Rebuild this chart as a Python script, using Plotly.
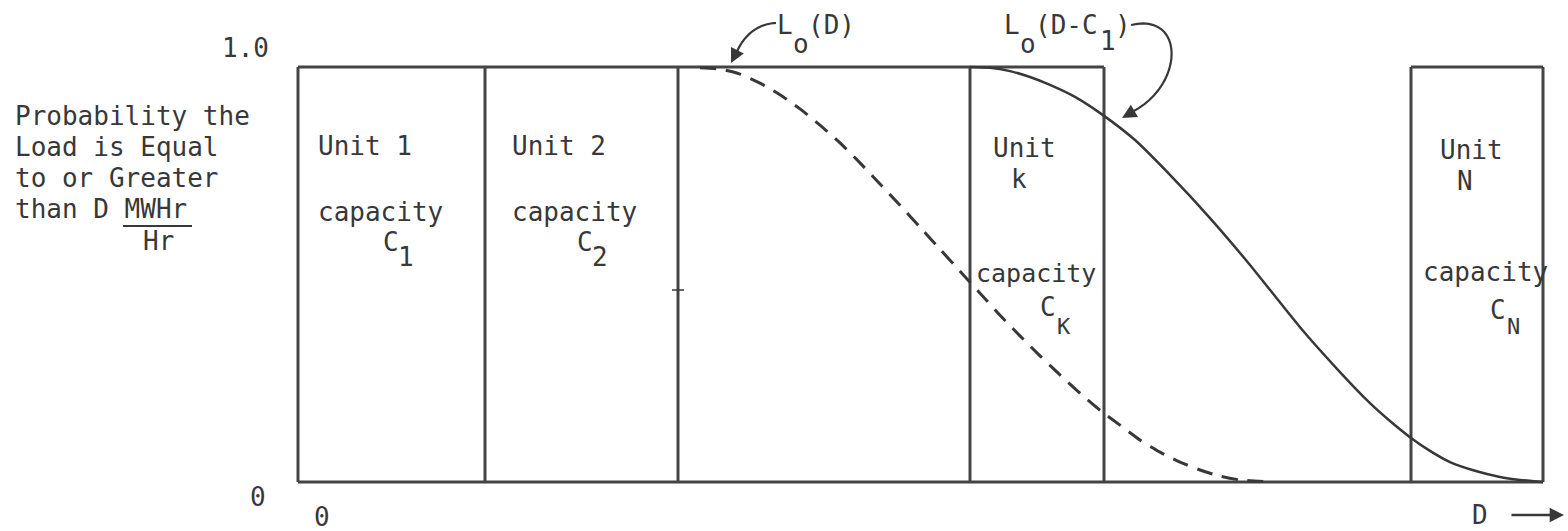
import plotly.graph_objects as go

W, H = 1568, 531

# ---- data (D in arbitrary load units, P = probability) ----
unit_names = ["Unit 1", "Unit 2", "", "Unit k", "Unit N"]
unit_edges = [0, 187, 380, 672, 806, 1113, 1245]   # box boundaries along D
top_segments = [(0, 806), (1113, 1245)]             # stretches of the P=1 line

L0_D = [402, 422, 442, 462, 482, 502, 522, 542, 562, 582, 602, 622, 642, 662,
        682, 702, 722, 742, 762, 782, 802, 822, 842, 862, 882, 902, 922, 942, 972]
L0_P = [0.998, 0.995, 0.983, 0.961, 0.933, 0.899, 0.860, 0.817, 0.769, 0.718,
        0.667, 0.614, 0.561, 0.508, 0.455, 0.402, 0.352, 0.304, 0.258, 0.214,
        0.173, 0.137, 0.101, 0.072, 0.048, 0.029, 0.014, 0.005, 0.0]

L1_D = [672, 692, 712, 732, 752, 777, 805, 837, 872, 912, 952, 1002, 1042,
        1072, 1092, 1112, 1132, 1152, 1177, 1202, 1222, 1245]
L1_P = [1.0, 0.998, 0.990, 0.976, 0.957, 0.928, 0.884, 0.824, 0.740, 0.636,
        0.523, 0.373, 0.265, 0.190, 0.147, 0.108, 0.075, 0.048, 0.027, 0.012,
        0.005, 0.0]

y_ticks = [0, 1]
y_tick_labels = ["0", "1.0"]

# ---- layout helpers ----
X0 = 298          # pixel of D = 0
Y0, Y1 = 482, 67  # pixels of P = 0 and P = 1
scale_y = (Y0 - Y1)
x_range = [-X0, W - X0]
y_range = [-(H - Y0) / scale_y, Y0 / scale_y]

def px(x):
    return x / W

def py(y):
    return 1 - y / H

INK = "#383838"
FONT = "DejaVu Sans Mono"
FS = 26

fig = go.Figure()

# box frame built from the unit edges
bx, by = [], []
for e in unit_edges:
    bx += [e, e, None]
    by += [0, 1, None]
for a, b in top_segments:
    bx += [a, b, None]
    by += [1, 1, None]
bx += [unit_edges[0], unit_edges[-1], None]
by += [0, 0, None]
fig.add_trace(go.Scatter(x=bx, y=by, mode="lines",
                         line=dict(color="#444", width=3), hoverinfo="skip"))

fig.add_trace(go.Scatter(x=L0_D, y=L0_P, mode="lines",
                         line=dict(color=INK, width=3, dash="16px,10px",
                                   shape="spline", smoothing=0.6),
                         hoverinfo="skip"))
fig.add_trace(go.Scatter(x=L1_D, y=L1_P, mode="lines",
                         line=dict(color=INK, width=2.5, shape="spline", smoothing=0.6),
                         hoverinfo="skip"))

ann = []

def text(t, x, y, anchor="left", size=FS):
    ann.append(dict(text=t, x=px(x), y=py(y), xref="paper", yref="paper",
                    xanchor=anchor, yanchor="middle", showarrow=False,
                    font=dict(family=FONT, size=size, color=INK)))

# y tick labels (typed slightly off the lines)
text(y_tick_labels[1], 271, 48, "right")
text(y_tick_labels[0], 268, 497, "right")
text("0", 312, 517)
text("D", 1470, 515)

# y-axis title
for i, line in enumerate(["Probability the", "Load is Equal", "to or Greater", "than D MWHr"]):
    text(line, 13, 116 + i * 31)
text("Hr", 141, 241)

# unit labels
text(unit_names[0], 316, 146)
text("capacity", 316, 212)
text("C", 381, 242)
text("1", 396, 257)

text(unit_names[1], 510, 146)
text("capacity", 510, 212)
text("C", 575, 242)
text("2", 590, 257)

text("Unit", 991, 148)
text("k", 1009, 179)
text("capacity", 974, 274, size=25)
text("C", 1038, 307)
text("K", 1055, 326, size=22)

text("Unit", 1438, 150)
text("N", 1455, 181)
text("capacity", 1421, 272)
text("C", 1488, 310)
text("N", 1505, 326, size=22)

# curve labels
text("L", 775, 25)
text("o", 791, 44)
text("(D)", 806, 25)

text("L", 1002, 25)
text("o", 1018, 44)
text("(D-C", 1033, 25)
text("1", 1098, 41)
text(")", 1113, 25)

# arrow heads
def arrow(tx, ty, ax, ay, size=1.3, width=2.2):
    ann.append(dict(x=px(tx), y=py(ty), xref="paper", yref="paper", text="",
                    showarrow=True, ax=ax, ay=ay, arrowhead=2, arrowsize=size,
                    arrowwidth=width, arrowcolor=INK))

arrow(731, 63, 5, -10)
arrow(1122, 118, 14, -8)
arrow(1564, 515, -54, 0, 1.1, 2.6)

shapes = []

def path(pts):
    s = "M {:.5f},{:.5f}".format(px(pts[0][0]), py(pts[0][1]))
    for p in pts[1:]:
        s += " L {:.5f},{:.5f}".format(px(p[0]), py(p[1]))
    return s

def bez(p0, c1, c2, p1, n=24):
    out = []
    for i in range(n + 1):
        t = i / n
        x = (1-t)**3*p0[0] + 3*(1-t)**2*t*c1[0] + 3*(1-t)*t**2*c2[0] + t**3*p1[0]
        y = (1-t)**3*p0[1] + 3*(1-t)**2*t*c1[1] + 3*(1-t)*t**2*c2[1] + t**3*p1[1]
        out.append((x, y))
    return out

shapes.append(dict(type="path", xref="paper", yref="paper",
                   path=path(bez((776, 23), (755, 24), (742, 38), (735, 56))),
                   line=dict(color=INK, width=2.2)))
shapes.append(dict(type="path", xref="paper", yref="paper",
                   path=path(bez((1131, 25), (1185, 12), (1185, 85), (1132, 112))),
                   line=dict(color=INK, width=2.2)))
# fraction bar under MWHr
shapes.append(dict(type="line", xref="paper", yref="paper",
                   x0=px(123), x1=px(192), y0=py(226), y1=py(226),
                   line=dict(color=INK, width=2)))
# small tick on the third boundary
shapes.append(dict(type="line", xref="paper", yref="paper",
                   x0=px(672), x1=px(684), y0=py(290), y1=py(290),
                   line=dict(color=INK, width=1.5)))

fig.update_layout(
    width=W, height=H,
    margin=dict(l=0, r=0, t=0, b=0),
    paper_bgcolor="white", plot_bgcolor="white",
    showlegend=False,
    xaxis=dict(range=x_range, visible=False, fixedrange=True),
    yaxis=dict(range=y_range, visible=False, fixedrange=True),
    annotations=ann,
    shapes=shapes,
)

fig.write_html("out.html", config={"displayModeBar": False},
               post_script="document.body.style.margin='0';document.body.style.overflow='hidden';")
